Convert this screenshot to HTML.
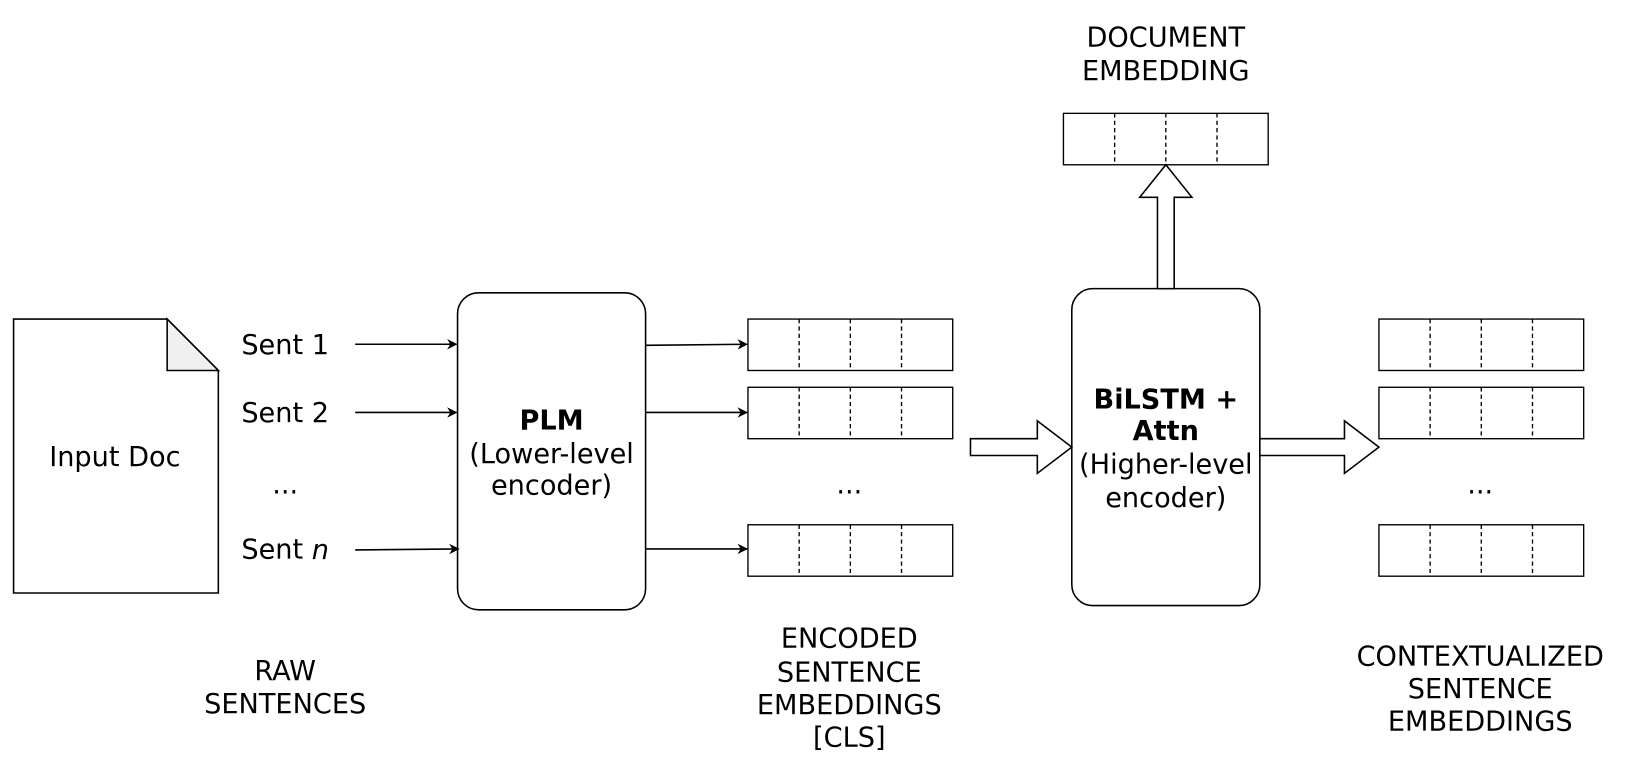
<!DOCTYPE html>
<html><head><style>html,body{margin:0;padding:0;background:#fff}svg{display:block}</style></head><body>
<svg width="1638" height="784" viewBox="0 0 1568 747" preserveAspectRatio="none" xmlns="http://www.w3.org/2000/svg" font-family="DejaVu Sans, Liberation Sans, sans-serif" font-size="26" fill="#000">
<defs><marker id="a" markerWidth="10" markerHeight="10" refX="9" refY="5" orient="auto" markerUnits="userSpaceOnUse"><path d="M0,0 L10,5 L0,10 L3,5 Z" fill="#000"/></marker></defs>
<g stroke="#000" stroke-width="1.5" fill="none">
<polygon points="13,304 160,304 209,353 209,565 13,565" fill="#fff"/>
<polygon points="160,304 160,353 209,353" fill="#f0f0f0"/>
<rect x="438" y="279" width="180" height="302" rx="20"/>
<rect x="1026" y="275" width="180" height="302" rx="20"/>
<line x1="340" y1="328" x2="437" y2="328" marker-end="url(#a)"/>
<line x1="340" y1="393" x2="437" y2="393" marker-end="url(#a)"/>
<line x1="340" y1="524" x2="439" y2="523" marker-end="url(#a)"/>
<line x1="618" y1="329" x2="715" y2="328" marker-end="url(#a)"/>
<line x1="618" y1="393" x2="715" y2="393" marker-end="url(#a)"/>
<line x1="618" y1="523" x2="715" y2="523" marker-end="url(#a)"/>
<polygon points="929,418 993,418 993,401 1026,426 993,451 993,434 929,434" fill="#fff"/>
<polygon points="1206,418 1287,418 1287,401 1320,426 1287,451 1287,434 1206,434" fill="#fff"/>
<polygon points="1108,275 1108,188 1091,188 1116,157 1141,188 1124,188 1124,275" fill="#fff"/>
</g>
<g stroke="#000" stroke-width="1.3" fill="none">
<rect x="716" y="304" width="196" height="49"/><rect x="716" y="369" width="196" height="49"/><rect x="716" y="500" width="196" height="49"/>
<rect x="1320" y="304" width="196" height="49"/><rect x="1320" y="369" width="196" height="49"/><rect x="1320" y="500" width="196" height="49"/>
<rect x="1018" y="108" width="196" height="49"/>
<g stroke-dasharray="4,3">
<path d="M765,304V353M814,304V353M863,304V353M765,369V418M814,369V418M863,369V418M765,500V549M814,500V549M863,500V549"/>
<path d="M1369,304V353M1418,304V353M1467,304V353M1369,369V418M1418,369V418M1467,369V418M1369,500V549M1418,500V549M1467,500V549"/>
<path d="M1067,108V157M1116,108V157M1165,108V157"/>
</g></g>
<g text-anchor="middle" dominant-baseline="central">
<text x="110" y="436">Input Doc</text>
<text x="273" y="329">Sent 1</text>
<text x="273" y="394">Sent 2</text>
<text x="273" y="462">...</text>
<text x="273" y="524">Sent <tspan font-style="italic">n</tspan></text>
<text x="528" y="401" font-weight="bold">PLM</text>
<text x="528" y="433">(Lower-level</text>
<text x="528" y="463">encoder)</text>
<text x="813" y="462">...</text>
<text x="1417" y="462">...</text>
<text x="1116" y="381" font-weight="bold">BiLSTM +</text>
<text x="1116" y="411" font-weight="bold">Attn</text>
<text x="1116" y="443">(Higher-level</text>
<text x="1116" y="475">encoder)</text>
<text x="1116" y="36">DOCUMENT</text>
<text x="1116" y="68">EMBEDDING</text>
<text x="273" y="640">RAW</text>
<text x="273" y="671">SENTENCES</text>
<text x="813" y="609">ENCODED</text>
<text x="813" y="641">SENTENCE</text>
<text x="813" y="672">EMBEDDINGS</text>
<text x="813" y="703">[CLS]</text>
<text x="1417" y="626">CONTEXTUALIZED</text>
<text x="1417" y="657">SENTENCE</text>
<text x="1417" y="688">EMBEDDINGS</text>
</g>
</svg>
</body></html>
